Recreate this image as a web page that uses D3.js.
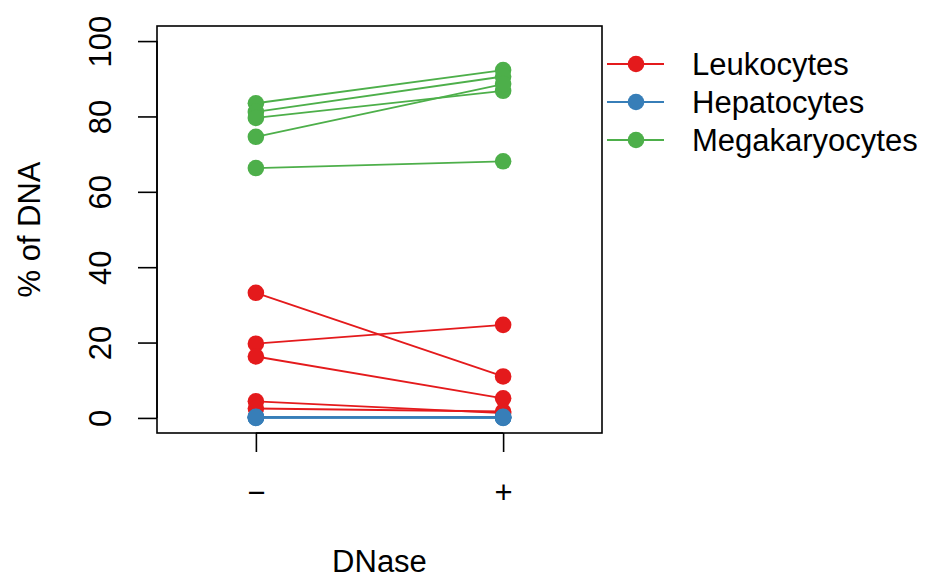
<!DOCTYPE html>
<html>
<head>
<meta charset="utf-8">
<script src="https://cdn.jsdelivr.net/npm/d3@7"></script>
<style>
  body { margin: 0; background: #fff; }
  svg { font-family: "Liberation Sans", Arial, Helvetica, sans-serif; }
</style>
</head>
<body>
<svg width="925" height="579"></svg>
<script>
// DNase condition on the x axis
var dnaseLevels = ["\u2212", "+"];
var dnaseX = [1, 2];
var yTicks = [0, 20, 40, 60, 80, 100];

// % of DNA per sample, without (-) and with (+) DNase
var leukoMinus = [33.2, 19.7, 16.3, 4.4, 2.5];
var leukoPlus  = [11.0, 24.7, 5.2, 1.3, 1.7];
var hepatoMinus = [0.1, 0.2, 0.0, 0.3, 0.1];
var hepatoPlus  = [0.2, 0.1, 0.0, 0.1, 0.3];
var megaMinus = [83.5, 81.2, 79.6, 74.6, 66.3];
var megaPlus  = [92.3, 90.6, 86.8, 88.6, 68.1];

var cellTypes = ["Leukocytes", "Hepatocytes", "Megakaryocytes"];
var colors = ["#E41A1C", "#377EB8", "#4DAF4A"];

var groups = [
  {name: cellTypes[0], color: colors[0], minus: leukoMinus, plus: leukoPlus},
  {name: cellTypes[1], color: colors[1], minus: hepatoMinus, plus: hepatoPlus},
  {name: cellTypes[2], color: colors[2], minus: megaMinus, plus: megaPlus}
];

var svg = d3.select("svg");
var fs = "31px";
// plot box (note: "top" is a reserved window global, so use other names)
var boxL = 157, boxR = 602, boxT = 26, boxB = 433;

var x = d3.scaleLinear().domain([0.6, 2.4]).range([boxL, boxR]);
var y = d3.scaleLinear().domain([-4, 104]).range([boxB, boxT]);

// lines + points
groups.forEach(function(g) {
  var pairs = g.minus.map(function(v, i) { return [v, g.plus[i]]; });
  svg.append("g").selectAll("line")
    .data(pairs).enter().append("line")
    .attr("x1", x(dnaseX[0])).attr("x2", x(dnaseX[1]))
    .attr("y1", d => y(d[0])).attr("y2", d => y(d[1]))
    .style("stroke", g.color).style("stroke-width", 1.8);
  var pts = [];
  pairs.forEach(function(p) {
    pts.push({x: dnaseX[0], v: p[0]});
    pts.push({x: dnaseX[1], v: p[1]});
  });
  svg.append("g").selectAll("circle")
    .data(pts).enter().append("circle")
    .attr("cx", d => x(d.x)).attr("cy", d => y(d.v))
    .attr("r", 8.3)
    .style("fill", g.color);
});

// box
svg.append("rect")
  .attr("x", boxL).attr("y", boxT)
  .attr("width", boxR - boxL).attr("height", boxB - boxT)
  .style("fill", "none").style("stroke", "#000").style("stroke-width", 1.6);

// y axis
var yAxis = svg.append("g")
  .attr("transform", "translate(" + boxL + ",0)")
  .call(d3.axisLeft(y).tickValues(yTicks).tickSize(19).tickSizeOuter(0));
yAxis.select(".domain").attr("d", "M0," + y(0) + "V" + y(100)).style("stroke-width", 1.6);
yAxis.selectAll(".tick line").style("stroke-width", 1.6);
yAxis.selectAll(".tick text")
  .attr("x", null)
  .attr("transform", "translate(-57,0) rotate(-90)")
  .attr("text-anchor", "middle")
  .attr("dy", "0.36em")
  .style("font-size", fs).style("font-family", "inherit").style("fill", "#000");

// x axis
var xAxis = svg.append("g")
  .attr("transform", "translate(0," + boxB + ")")
  .call(d3.axisBottom(x).tickValues(dnaseX).tickSize(19).tickSizeOuter(0)
    .tickFormat((d, i) => dnaseLevels[i]));
xAxis.select(".domain").attr("d", "M" + x(1) + ",0H" + x(2)).style("stroke-width", 1.6);
xAxis.selectAll(".tick line").style("stroke-width", 1.6);
xAxis.selectAll(".tick text")
  .attr("y", 59).attr("dy", "0.36em")
  .style("font-size", fs).style("font-family", "inherit").style("fill", "#000");

// axis titles
svg.append("text")
  .attr("transform", "translate(40," + ((boxT + boxB) / 2) + ") rotate(-90)")
  .attr("text-anchor", "middle")
  .style("font-size", fs)
  .text("% of DNA");
svg.append("text")
  .attr("x", (boxL + boxR) / 2).attr("y", 572)
  .attr("text-anchor", "middle")
  .style("font-size", fs)
  .text("DNase");

// legend
var legendY = [64, 102, 140];
var legend = svg.append("g").selectAll("g")
  .data(groups).enter().append("g")
  .attr("transform", (d, i) => "translate(0," + legendY[i] + ")");
legend.append("line")
  .attr("x1", 607).attr("x2", 664)
  .style("stroke", d => d.color).style("stroke-width", 1.8);
legend.append("circle")
  .attr("cx", 636).attr("r", 8.3)
  .style("fill", d => d.color);
legend.append("text")
  .attr("x", 692).attr("dy", "0.36em")
  .style("font-size", fs)
  .text(d => d.name);
</script>
</body>
</html>
